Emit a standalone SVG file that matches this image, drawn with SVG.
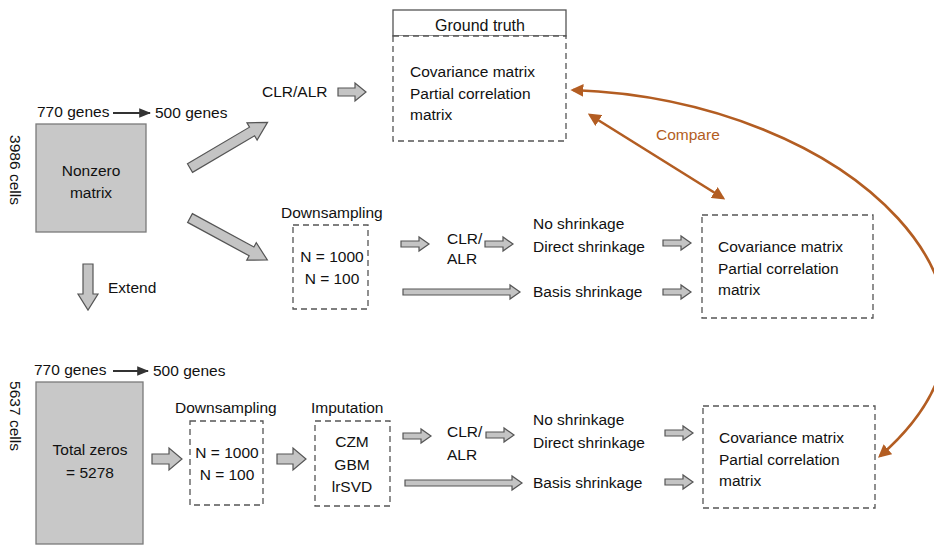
<svg xmlns="http://www.w3.org/2000/svg" width="934" height="546" viewBox="0 0 934 546">
<defs>
<style>
text{font-family:"Liberation Sans",Arial,sans-serif;font-size:15.5px;fill:#111}
.mid{text-anchor:middle}
.mat{fill:#c8c8c8;stroke:#7a7a7a;stroke-width:1.3}
.dash{fill:#fff;stroke:#555;stroke-width:1.3;stroke-dasharray:6,4}
.blk{fill:#c4c4c4;stroke:#555;stroke-width:1.2;stroke-linejoin:miter}
.brown{fill:none;stroke:#b35d22;stroke-width:2.6}
.cmp{fill:#b35d22;font-size:15.5px}
</style>
<path id="sa" d="M0,-3 H18 V-7 L28,0 L18,7 V3 H0 Z"/>
<marker id="bh" viewBox="0 0 10 10" refX="8" refY="5" markerWidth="5" markerHeight="5" orient="auto-start-reverse" markerUnits="strokeWidth">
<path d="M0,0 L10,5 L0,10 Z" fill="#b35d22"/>
</marker>
<marker id="kh" viewBox="0 0 10 10" refX="9" refY="5" markerWidth="6" markerHeight="6" orient="auto" markerUnits="strokeWidth">
<path d="M0,1 L10,5 L0,9 Z" fill="#333"/>
</marker>
</defs>
<rect width="934" height="546" fill="#fff"/>

<g id="top-genes">
<text x="37" y="117">770 genes</text>
<text x="155" y="118">500 genes</text>
</g>
<g id="nonzero">
<rect class="mat" x="36" y="124" width="110" height="108"/>
<text class="mid" x="91" y="176">Nonzero</text>
<text class="mid" x="91" y="198">matrix</text>
<text class="mid" transform="translate(10,170) rotate(90)">3986 cells</text>
</g>
<g id="extend-label"><text x="108" y="293">Extend</text></g>
<g id="clr-top"><text x="262" y="97">CLR/ALR</text></g>
<g id="ground-truth">
<rect x="393" y="10" width="173" height="26" fill="#fff" stroke="#555" stroke-width="1.3"/>
<text class="mid" x="480" y="31" style="font-size:16px">Ground truth</text>
<rect class="dash" x="393" y="36" width="173" height="105"/>
<text x="410" y="77">Covariance matrix</text>
<text x="410" y="99">Partial correlation</text>
<text x="410" y="120">matrix</text>
</g>
<g id="ds-mid">
<text x="281" y="218">Downsampling</text>
<rect class="dash" x="293" y="225" width="75" height="84"/>
<text class="mid" x="332" y="262">N = 1000</text>
<text class="mid" x="332" y="284">N = 100</text>
</g>
<g id="clr-mid"><text x="447" y="244">CLR/</text><text x="447" y="264">ALR</text></g>
<g id="shrink-mid">
<text x="533" y="229">No shrinkage</text>
<text x="533" y="252">Direct shrinkage</text>
<text x="533" y="297">Basis shrinkage</text>
</g>
<g id="result-mid">
<rect class="dash" x="702" y="215" width="171" height="103"/>
<text x="718" y="252">Covariance matrix</text>
<text x="718" y="274">Partial correlation</text>
<text x="718" y="295">matrix</text>
</g>
<g id="compare-label"><text class="cmp" x="656" y="140">Compare</text></g>

<g id="bottom-genes">
<text x="34" y="375">770 genes</text>
<text x="153" y="376">500 genes</text>
</g>
<g id="total-zeros">
<rect class="mat" x="36" y="382" width="107" height="162"/>
<text class="mid" x="90" y="455">Total zeros</text>
<text class="mid" x="90" y="478">= 5278</text>
<text class="mid" transform="translate(10,416) rotate(90)">5637 cells</text>
</g>
<g id="ds-bot">
<text x="175" y="413">Downsampling</text>
<rect class="dash" x="190" y="421" width="73" height="84"/>
<text class="mid" x="227" y="458">N = 1000</text>
<text class="mid" x="227" y="480">N = 100</text>
</g>
<g id="imputation">
<text x="311" y="413">Imputation</text>
<rect class="dash" x="315" y="421" width="75" height="85"/>
<text class="mid" x="352" y="447">CZM</text>
<text class="mid" x="352" y="470">GBM</text>
<text class="mid" x="352" y="492">lrSVD</text>
</g>
<g id="clr-bot"><text x="447" y="437">CLR/</text><text x="447" y="460">ALR</text></g>
<g id="shrink-bot">
<text x="533" y="425">No shrinkage</text>
<text x="533" y="448">Direct shrinkage</text>
<text x="533" y="488">Basis shrinkage</text>
</g>
<g id="result-bot">
<rect class="dash" x="703" y="406" width="172" height="102"/>
<text x="719" y="443">Covariance matrix</text>
<text x="719" y="465">Partial correlation</text>
<text x="719" y="486">matrix</text>
</g>

<g id="connectors">
<line x1="113" y1="113" x2="150" y2="113" stroke="#333" stroke-width="2" marker-end="url(#kh)"/>
<line x1="113" y1="371" x2="148" y2="371" stroke="#333" stroke-width="2" marker-end="url(#kh)"/>
<path class="blk" transform="translate(190,168) rotate(-30.5)" d="M0,-5 H72 V-10 L90,0 L72,10 V5 H0 Z"/>
<path class="blk" transform="translate(190,218) rotate(28.5)" d="M0,-5 H70 V-10 L88,0 L70,10 V5 H0 Z"/>
<path class="blk" transform="translate(88,264) rotate(90)" d="M0,-5 H30 V-10 L46,0 L30,10 V5 H0 Z"/>
<path class="blk" transform="translate(338,92)" d="M0,-4 H17 V-9 L28,0 L17,9 V4 H0 Z"/>
<use href="#sa" class="blk" x="401" y="244"/>
<use href="#sa" class="blk" x="485" y="244"/>
<use href="#sa" class="blk" x="663" y="243"/>
<path class="blk" transform="translate(403,292)" d="M0,-3 H107 V-7 L117,0 L107,7 V3 H0 Z"/>
<use href="#sa" class="blk" x="663" y="292"/>
<path class="blk" transform="translate(152,459)" d="M0,-5 H17 V-11 L30,0 L17,11 V5 H0 Z"/>
<path class="blk" transform="translate(277,459)" d="M0,-5 H16 V-11 L29,0 L16,11 V5 H0 Z"/>
<use href="#sa" class="blk" x="403" y="436"/>
<use href="#sa" class="blk" x="486" y="435"/>
<use href="#sa" class="blk" x="665" y="433"/>
<path class="blk" transform="translate(405,483)" d="M0,-3 H107 V-7 L117,0 L107,7 V3 H0 Z"/>
<use href="#sa" class="blk" x="665" y="482"/>
<line class="brown" x1="590" y1="115" x2="723" y2="198" marker-start="url(#bh)" marker-end="url(#bh)"/>
<path class="brown" d="M573,90 C850,100 1060,300 880,456" marker-start="url(#bh)" marker-end="url(#bh)"/>
</g>
</svg>
